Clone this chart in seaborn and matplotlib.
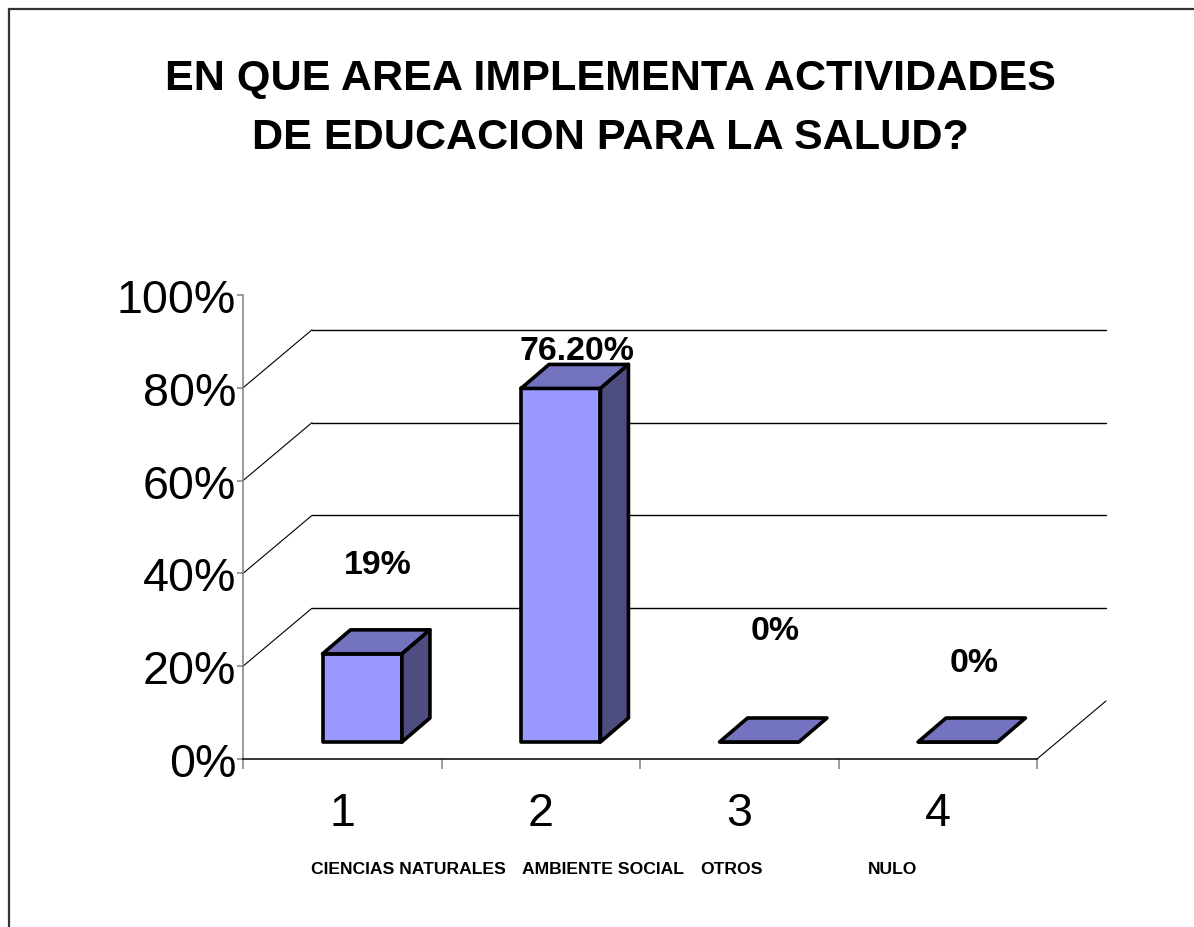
import matplotlib
matplotlib.use("Agg")
import matplotlib.pyplot as plt
import seaborn as sns
from matplotlib import font_manager
from matplotlib.patches import Polygon, Rectangle

# === DATOS ===
categorias = ["1", "2", "3", "4"]
nombres = ["CIENCIAS NATURALES", "AMBIENTE SOCIAL", "OTROS", "NULO"]
valores = [19, 76.2, 0, 0]
etiquetas = ["19%", "76.20%", "0%", "0%"]
y_ticks = [0, 20, 40, 60, 80, 100]
y_labels = ["0%", "20%", "40%", "60%", "80%", "100%"]
titulo = ["EN QUE AREA IMPLEMENTA ACTIVIDADES", "DE EDUCACION PARA LA SALUD?"]

# === ESTILO ===
c_front = "#9999FF"
c_top = "#7373BF"
c_side = "#4D4D80"

names = {f.name for f in font_manager.fontManager.ttflist}
narrow = "Liberation Sans Narrow" in names
fam = "Liberation Sans Narrow" if narrow else "Liberation Sans"
k = 1.0 if narrow else 0.84  # factor de tamaño si no hay fuente estrecha

sns.set_theme(style="white")
plt.rcParams["font.family"] = [fam, "DejaVu Sans"]
plt.rcParams["text.color"] = "black"

W, H = 1194, 928
fig = plt.figure(figsize=(W / 100, H / 100), dpi=100)

# marco del gráfico
fig.patches.append(Rectangle((9 / W, -0.05), 1.2, 1 - 10 / H + 0.05, transform=fig.transFigure,
                             fill=False, edgecolor="#333333", linewidth=1.6))

ax = fig.add_axes([243 / W, 168 / H, 794 / W, 464 / H])
ax.patch.set_alpha(0)

sns.barplot(x=categorias, y=valores, ax=ax, color=c_front, saturation=1, width=0.4,
            edgecolor="black", linewidth=2.6, zorder=3)

ax.set_xlim(-0.5, 3.5)
ax.set_ylim(0, 100)

# profundidad 3D (en unidades de datos)
px_x = 794 / 4
px_y = 464 / 100
front_dx, front_dy = 20 / px_x, 17 / px_y
bar_dx, bar_dy = 28 / px_x, 24 / px_y
wall_dx, wall_dy = 69 / px_x, 58 / px_y

# rejilla de la pared del fondo
for v in y_ticks[1:-1]:
    ax.plot([-0.5, -0.5 + wall_dx], [v, v + wall_dy], color="black", lw=0.8, clip_on=False, zorder=1)
    ax.plot([-0.5 + wall_dx, 3.5 + wall_dx], [v + wall_dy, v + wall_dy], color="black", lw=1.0,
            clip_on=False, zorder=1)
ax.plot([3.5, 3.5 + wall_dx], [0, wall_dy], color="black", lw=0.8, clip_on=False, zorder=1)

# caras superiores y laterales
for p in ax.patches:
    p.set_x(p.get_x() + front_dx)
    p.set_y(p.get_y() + front_dy)
    p.set_clip_on(False)
    p.set_joinstyle("round")
    x0 = p.get_x()
    x1 = x0 + p.get_width()
    y0 = p.get_y()
    y1 = y0 + p.get_height()
    top = Polygon([(x0, y1), (x1, y1), (x1 + bar_dx, y1 + bar_dy), (x0 + bar_dx, y1 + bar_dy)],
                  closed=True, facecolor=c_top, edgecolor="black", lw=2.6, joinstyle="round",
                  clip_on=False, zorder=3)
    ax.add_patch(top)
    if p.get_height() > 0:
        side = Polygon([(x1, y0), (x1, y1), (x1 + bar_dx, y1 + bar_dy), (x1 + bar_dx, y0 + bar_dy)],
                       closed=True, facecolor=c_side, edgecolor="black", lw=2.6, joinstyle="round",
                       clip_on=False, zorder=3)
        ax.add_patch(side)

# etiquetas de datos
label_y = [42, 88, 27.6, 20.9]
for i, txt in enumerate(etiquetas):
    ax.text(i + 36 / px_x, label_y[i], txt, ha="center", va="center", fontsize=29 * k,
            fontweight="bold", color="black")

# ejes
for s in ["top", "right"]:
    ax.spines[s].set_visible(False)
ax.spines["left"].set_color("#808080")
ax.spines["left"].set_linewidth(1.1)
ax.spines["bottom"].set_color("black")
ax.spines["bottom"].set_linewidth(1.1)

ax.set_yticks(y_ticks)
ax.set_yticklabels(y_labels, fontsize=40 * k)
ax.tick_params(axis="y", left=True, direction="out", length=4.5, width=1.1, color="#808080",
               pad=0.5, labelcolor="black")

ax.set_xticks(range(4))
ax.set_xticklabels(categorias, fontsize=40 * k)
ax.set_xticks([-0.5, 0.5, 1.5, 2.5, 3.5], minor=True)
ax.tick_params(axis="x", which="major", length=0, pad=23, labelcolor="black")
ax.tick_params(axis="x", which="minor", bottom=True, direction="out", length=7.5, width=1.1,
               color="#808080")
ax.set_xlabel("")
ax.set_ylabel("")

# nombres de categorías
nombres_x = [311, 522, 700, 868]
for nx, nm in zip(nombres_x, nombres):
    fig.text(nx / W, 1 - 874 / H, nm, ha="left", va="baseline", fontsize=15 * k,
             fontweight="bold", color="black")

# título
for ty, linea in zip([90, 149], titulo):
    fig.text(610 / W, 1 - ty / H, linea, ha="center", va="baseline", fontsize=37 * k,
             fontweight="bold", color="black")

fig.savefig("out.png", dpi=100)
